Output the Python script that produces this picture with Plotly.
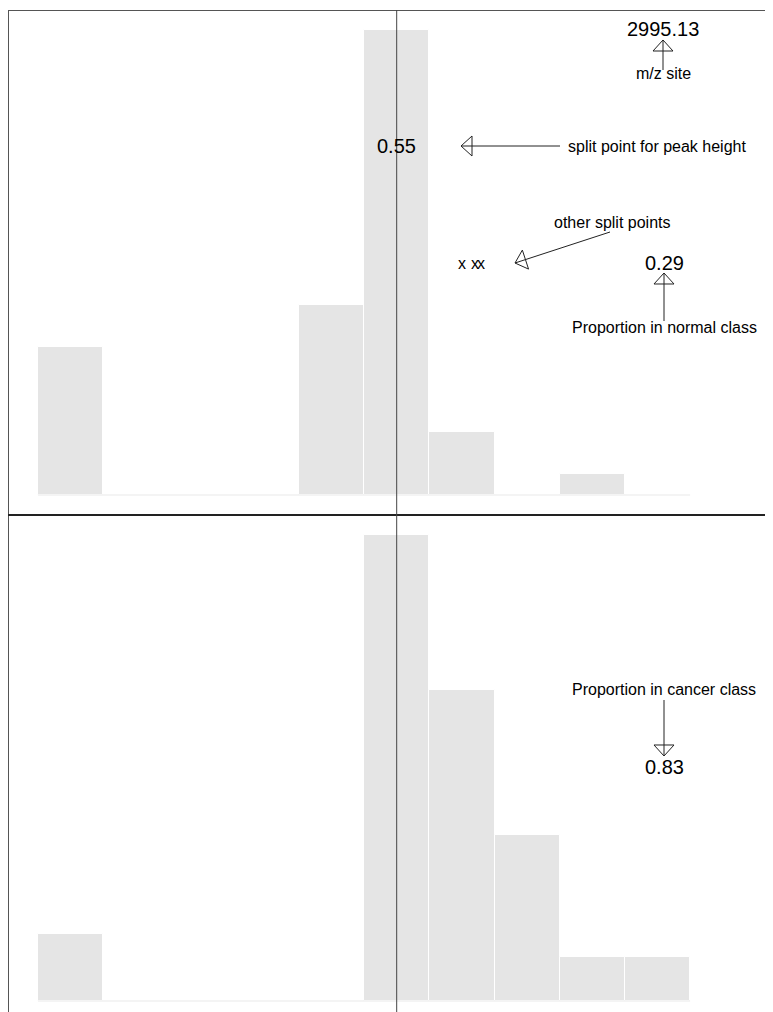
import plotly.graph_objects as go
from plotly.subplots import make_subplots

# ---------------- data ----------------
bin_centers = [0.05, 0.15, 0.25, 0.35, 0.45, 0.55, 0.65, 0.75, 0.85, 0.95]
bin_width = 0.1
normal_counts = [7, 0, 0, 0, 9, 22, 3, 0, 1, 0]
cancer_counts = [6, 0, 0, 0, 0, 42, 28, 15, 4, 4]
split_point = 0.55
other_splits = [0.65, 0.67, 0.68]
mz_site = "2995.13"
prop_normal = "0.29"
prop_cancer = "0.83"

# The page body has an 8px margin, so the figure starts at page (8, 8).
PAGE_W, PAGE_H = 773, 1012
BODY = 8
W, H = PAGE_W - BODY, PAGE_H - BODY
ML, MT = 0, 2            # plot area begins at page (8, 10)
PL, PT = BODY + ML, BODY + MT
PW, PH = PAGE_W - PL, PAGE_H - PT


def px(xp):
    return (xp - PL) / PW


def py(yp):
    return (PAGE_H - yp) / PH


FONT = "Liberation Sans, Arial, sans-serif"
BAR = "#e5e5e5"

fig = make_subplots(rows=2, cols=1, vertical_spacing=0)

for row, counts in ((1, normal_counts), (2, cancer_counts)):
    fig.add_trace(go.Bar(x=bin_centers, y=counts, width=bin_width,
                         marker=dict(color=BAR, line=dict(color="white", width=1)),
                         showlegend=False, hoverinfo="skip"), row=row, col=1)
    fig.add_trace(go.Scatter(x=[bin_centers[0] - bin_width / 2, bin_centers[-1] + bin_width / 2],
                             y=[0, 0], mode="lines",
                             line=dict(color="rgba(0,0,0,0.06)", width=1.5),
                             showlegend=False, hoverinfo="skip"), row=row, col=1)

split_y = py(515)
xr = [-0.046, 1.127]
fig.update_layout(
    width=W, height=H,
    margin=dict(l=ML, r=0, t=MT, b=0, pad=0),
    paper_bgcolor="white", plot_bgcolor="white",
    bargap=0,
    xaxis=dict(range=xr, visible=False, domain=[0, 1]),
    xaxis2=dict(range=xr, visible=False, domain=[0, 1]),
    yaxis=dict(range=[-0.946, 22.946], visible=False, domain=[split_y, 1]),
    yaxis2=dict(range=[-0.991, 43.80], visible=False, domain=[0, split_y]),
)

shapes = []
# frame lines
shapes.append(dict(type="line", xref="paper", yref="paper", x0=0, x1=1, y0=py(10.5), y1=py(10.5),
                   line=dict(color="#555", width=1)))
shapes.append(dict(type="line", xref="paper", yref="paper", x0=px(8.5), x1=px(8.5), y0=0, y1=py(10),
                   line=dict(color="#555", width=1)))
shapes.append(dict(type="line", xref="paper", yref="paper", x0=0, x1=1, y0=split_y, y1=split_y,
                   line=dict(color="#222", width=2)))
# split line across both panels
shapes.append(dict(type="line", xref="x", yref="paper", x0=split_point, x1=split_point, y0=0, y1=py(10),
                   line=dict(color="#444", width=1)))


def arrow(start, tip, L=11, Wd=10):
    (x0, y0), (x1, y1) = start, tip
    shapes.append(dict(type="line", xref="paper", yref="paper",
                       x0=px(x0), y0=py(y0), x1=px(x1), y1=py(y1),
                       line=dict(color="#222", width=1)))
    dx, dy = x1 - x0, y1 - y0
    n = (dx * dx + dy * dy) ** 0.5
    ux, uy = dx / n, dy / n
    nx, ny = -uy, ux
    bx, by = x1 - L * ux, y1 - L * uy
    pts = [(x1, y1), (bx + Wd * nx, by + Wd * ny), (bx - Wd * nx, by - Wd * ny)]
    path = "M " + " L ".join(f"{px(a):.5f},{py(b):.5f}" for a, b in pts) + " Z"
    shapes.append(dict(type="path", xref="paper", yref="paper", path=path,
                       line=dict(color="#222", width=1), fillcolor="rgba(0,0,0,0)"))


arrow((663, 70), (663, 40))
arrow((560, 146), (461, 146))
arrow((610, 232), (515, 263))
arrow((664, 321), (664, 273))
arrow((664, 700), (664, 756))

ann = []


def text(t, xp, yp, size, xanchor="center", xref="paper", xval=None):
    ann.append(dict(text=t, showarrow=False, xref=xref, yref="paper",
                    x=(xval if xval is not None else px(xp)), y=py(yp),
                    xanchor=xanchor, yanchor="middle",
                    font=dict(family=FONT, size=size, color="black")))


text(mz_site, 663, 29, 20)
text("m/z site", 663, 73, 16)
text(f"{split_point:.2f}", None, 146, 20, xref="x", xval=split_point)
text("split point for peak height", 566, 146, 16, xanchor="left")
text("other split points", 612, 222, 16)
for s in other_splits:
    text("x", None, 263, 16, xref="x", xval=s)
text(prop_normal, 664, 263, 20)
text("Proportion in normal class", 664, 327, 16)
text("Proportion in cancer class", 664, 689, 16)
text(prop_cancer, 664, 767, 20)

fig.update_layout(shapes=shapes, annotations=ann)
fig.write_html("out.html")
